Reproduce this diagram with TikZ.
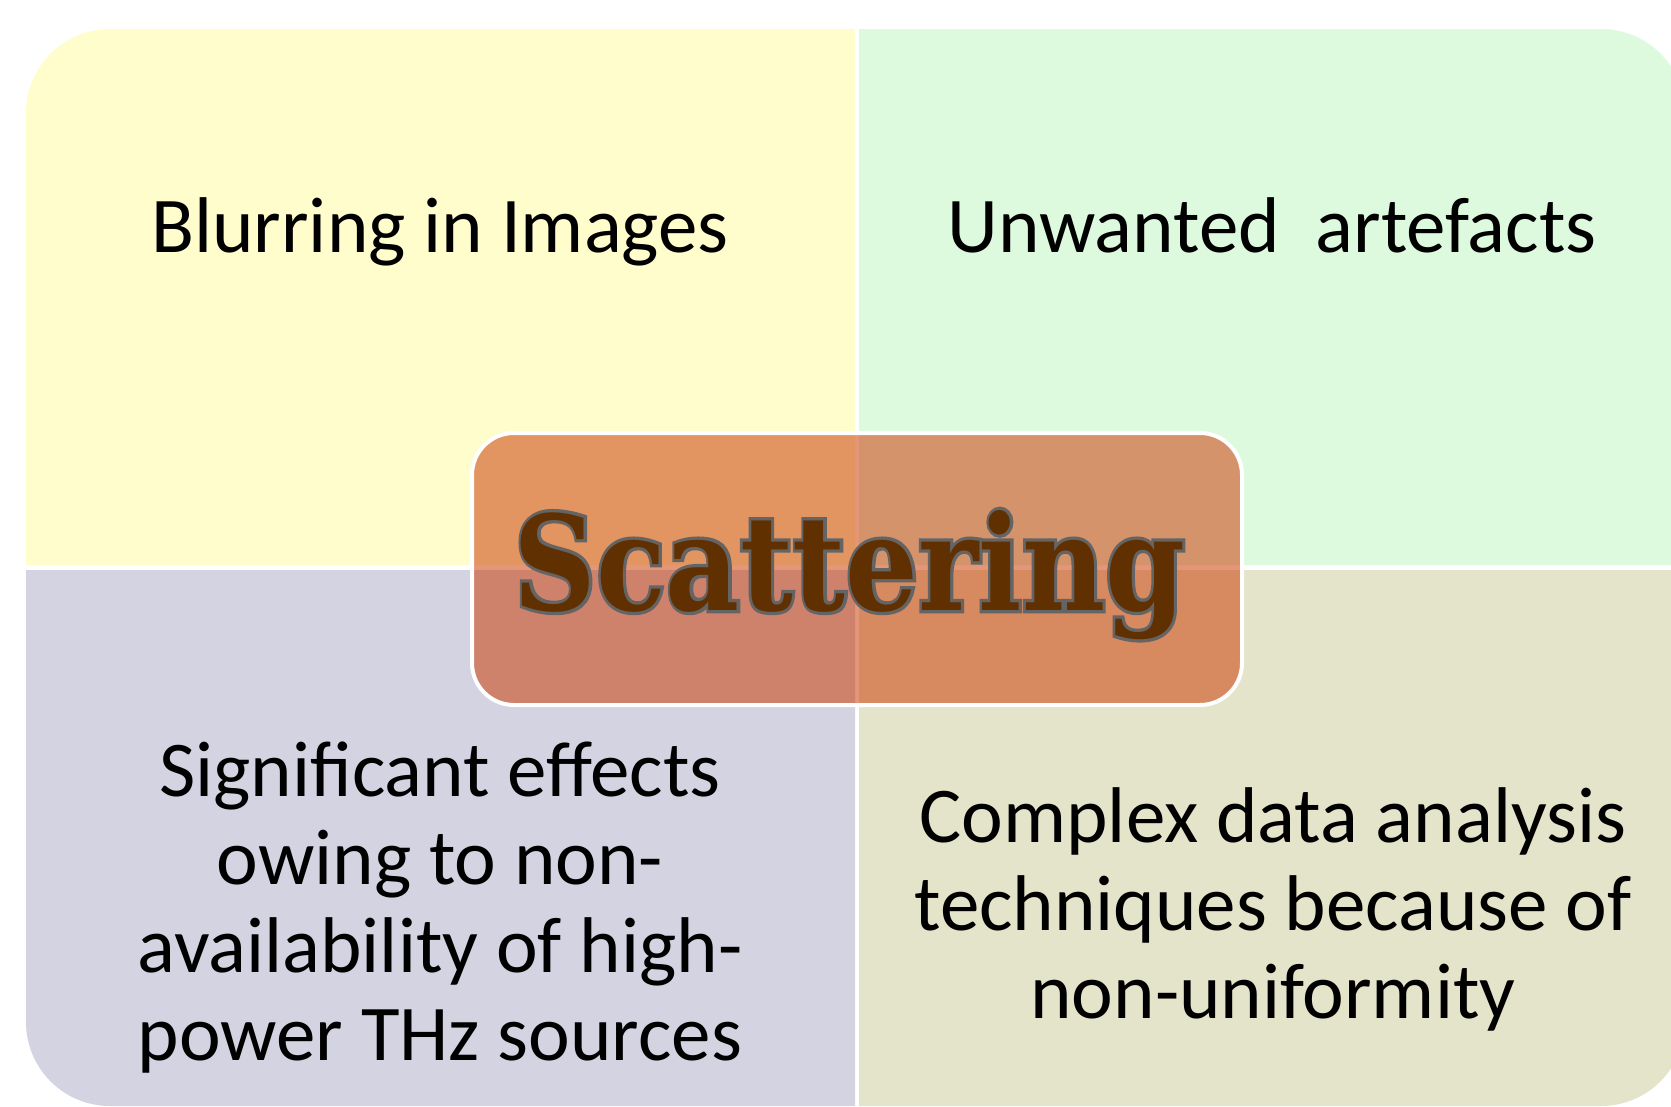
\documentclass[tikz,border=0pt]{standalone}
\usepackage{fontspec}
\usepackage{graphicx}
\setmainfont{Carlito}
\newfontfamily\scatfont{DejaVu Serif}
\newfontfamily\scatfontout{DejaVu Serif}[BoldFeatures={FakeBold=5}]
\definecolor{qyellow}{RGB}{255,253,204}
\definecolor{qgreen}{RGB}{221,250,223}
\definecolor{qlav}{RGB}{211,211,226}
\definecolor{qkhaki}{RGB}{228,228,202}
\definecolor{boxfill}{RGB}{205,64,10}
\definecolor{scatbrown}{RGB}{97,48,0}
\definecolor{scatline}{RGB}{100,100,100}
\tikzset{
  qtext/.style={anchor=base, align=center, inner sep=0pt, text=black,
    font=\fontsize{79}{88}\selectfont},
  centerbox/.style={draw=white, line width=4pt, fill=boxfill, fill opacity=0.55,
    rounded corners=42pt, minimum width=770pt, minimum height=272pt, inner sep=0pt},
  scattext/.style={anchor=base, inner sep=0pt}
}
\begin{document}
\begin{tikzpicture}[x=1pt,y=-1pt]
\useasboundingbox (0,0) rectangle (1671,1106);
\fill[white] (0,0) rectangle (1671,1106);
\begin{scope}
\clip (0,0) rectangle (1671,1106);
% quadrants
\fill[qyellow] (26,565) -- (26,113) arc[start angle=180,end angle=270,radius=84] -- (855,29) -- (855,565) -- cycle;
\fill[qgreen] (859,565) -- (859,29) -- (1601,29) arc[start angle=270,end angle=360,radius=84] -- (1685,565) -- cycle;
\fill[qlav] (26,570) -- (855,570) -- (855,1106) -- (110,1106) arc[start angle=90,end angle=180,radius=84] -- cycle;
\fill[qkhaki] (859,570) -- (1685,570) -- (1685,1022) arc[start angle=0,end angle=90,radius=84] -- (859,1106) -- cycle;
\end{scope}
% quadrant texts (base anchor = baseline of last line)
\node[qtext] (tl) at (440,252) {Blurring in Images};
\node[qtext] (tr) at (1272,252) {Unwanted\ \ artefacts};
\node[qtext] (bl) at (440,1060) {Significant effects\\owing to non-\\availability of high-\\power THz sources};
\node[qtext] (br) at (1273,1018) {Complex data analysis\\techniques because of\\non-uniformity};
% center box
\node[centerbox] (box) at (857,569) {};
\node[scattext] (scatout) at (849.5,610) {\resizebox{671pt}{100pt}{\color{scatline}\scatfontout\bfseries Scattering}};
\node[scattext] (scat) at (849.5,610) {\resizebox{671pt}{100pt}{\color{scatbrown}\scatfont\bfseries Scattering}};
\end{tikzpicture}
\end{document}
